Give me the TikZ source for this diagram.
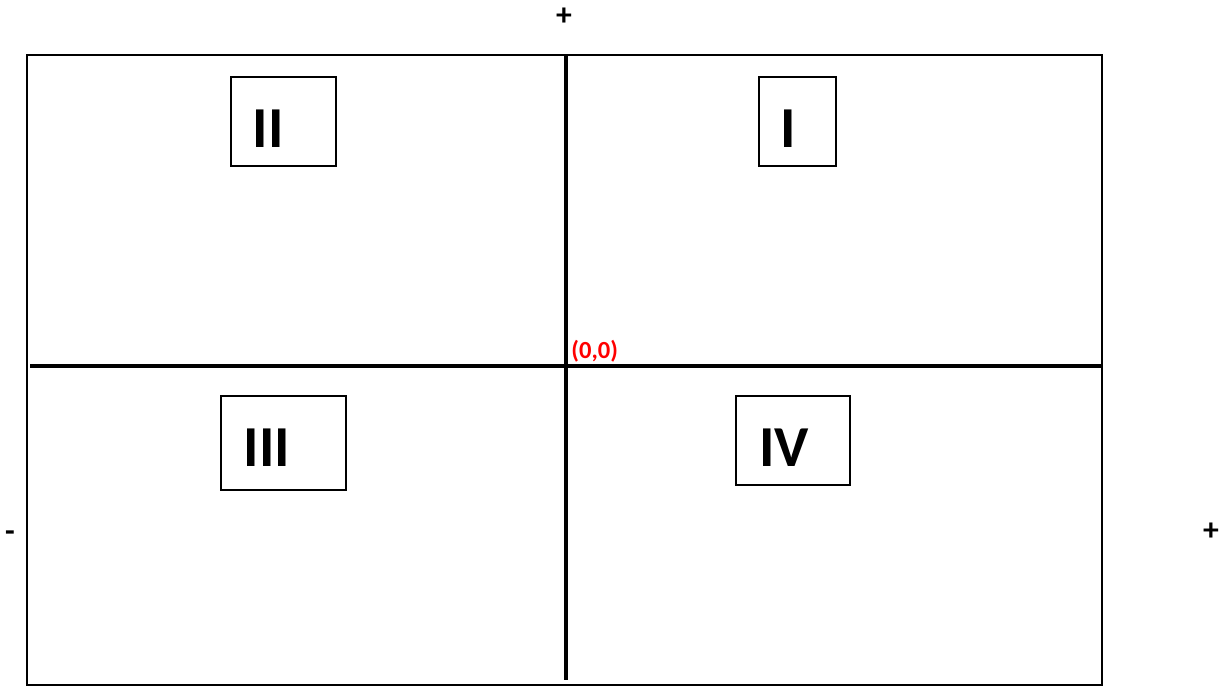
\documentclass[tikz,border=0pt]{standalone}
\usepackage{fontspec}
\setmainfont{Carlito}
\usepackage{tikz}
\usetikzlibrary{positioning}
\definecolor{ink}{HTML}{000000}
\definecolor{origin}{HTML}{FF0000}
\tikzset{
  quadbox/.style={draw=ink,line width=0.9pt,inner sep=0pt},
  quadlabel/.style={font=\bfseries\fontsize{33}{38}\selectfont,color=ink,inner sep=0pt},
  signlabel/.style={font=\bfseries\fontsize{18}{21}\selectfont,color=ink,inner sep=0pt},
  axis/.style={line width=2pt,color=ink}
}

\begin{document}
\begin{tikzpicture}[x=0.02cm,y=-0.02cm]
  \useasboundingbox (0,0) rectangle (1227,686);
  \draw[ink,line width=0.8pt] (27,55) rectangle (1102,685);

  % axes
  \coordinate (ytop) at (566,55);
  \coordinate (ybot) at (566,680);
  \coordinate (xleft) at (30,366);
  \coordinate (xright) at (1102,366);
  \draw[axis] (ytop) -- (ybot);
  \draw[axis] (xleft) -- (xright);
  \node[anchor=south west,font=\bfseries\fontsize{14}{16}\selectfont,color=origin,inner sep=0pt] (orig) at (571,363) {(0,0)};

  % quadrant boxes
  \foreach \name/\xa/\ya/\xb/\yb/\tx/\txt in {
    qtwo/231/77/336/166/268/II,
    qone/759/77/836/166/788/I,
    qthree/221/396/346/490/267/III,
    qfour/736/396/850/485/784/IV} {
    \node[quadbox,minimum width={(\xb-\xa)*0.02cm},minimum height={(\yb-\ya)*0.02cm}] (\name) at ({(\xa+\xb)/2},{(\ya+\yb)/2}) {};
    \node[quadlabel] (\name txt) at (\tx,{\ya+52}) {\txt};
  }

  % signs
  \node[signlabel] (ypos) at (564,17) {+};
  \node[signlabel] (xneg) at (10,536) {-};
  \node[signlabel] (xpos) at (1211,532) {+};
\end{tikzpicture}
\end{document}
